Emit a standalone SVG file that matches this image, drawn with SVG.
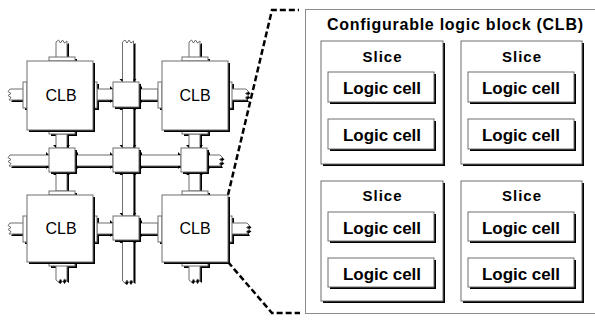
<svg xmlns="http://www.w3.org/2000/svg" width="595" height="322" viewBox="0 0 595 322">
<style>
.sd{fill:#000;stroke:none}
.bx{fill:#fff;stroke:#6e6e6e;stroke-width:1}
.t{font-family:"Liberation Sans",Arial,Helvetica,sans-serif;fill:#000}
.clb{font-size:16px;text-anchor:middle}
.b{font-weight:bold;text-anchor:middle}
.dash{fill:none;stroke:#000;stroke-width:2.5;stroke-dasharray:6 3}
.frame{fill:none;stroke:#8c8c8c;stroke-width:1}
</style>
<rect width="595" height="322" fill="#fff"/>

<g id="connectors">
  <!-- shadows -->
  <g class="sd" transform="translate(2,2)">
    <path d="M122.5,82 V42 L125,40 L127,43 L129,40 L131,43 L133.5,41 V82 Z"/>
    <rect x="122.5" y="107" width="11" height="41"/>
    <rect x="122.5" y="172" width="11" height="44"/>
    <path d="M122.5,240 V281 L125,283 L127,280 L129,283 L131,280 L133.5,282 V240 Z"/>
    <path d="M49,155 H10 L8,157.5 L11,159.5 L8,161.5 L11,163.5 L9,166 H49 Z"/>
    <rect x="75" y="155" width="38" height="11"/>
    <rect x="139" y="155" width="42" height="11"/>
    <path d="M207,155 H220 L222.5,157.5 L219.5,159.5 L222.5,161.5 L219.5,163.5 L221,166 H207 Z"/>
    <rect x="97" y="89" width="16" height="11"/>
    <rect x="139" y="89" width="19" height="11"/>
    <rect x="97" y="223" width="16" height="11"/>
    <rect x="139" y="223" width="19" height="11"/>
    <rect x="56" y="134" width="11" height="14"/>
    <rect x="56" y="173" width="11" height="18"/>
    <rect x="189" y="134" width="11" height="14"/>
    <rect x="189" y="172" width="11" height="19"/>
    <path d="M23,89 H10 L8,91.5 L11,93.5 L8,95.5 L11,97.5 L9,100 H23 Z"/>
    <path d="M232,89 H246 L248.5,91.5 L245.5,93.5 L248.5,95.5 L245.5,97.5 L247,100 H232 Z"/>
    <path d="M23,223 H10 L8,225.5 L11,227.5 L8,229.5 L11,231.5 L9,234 H23 Z"/>
    <path d="M232,223 H247 L249.5,225.5 L246.5,227.5 L249.5,229.5 L246.5,231.5 L248,234 H232 Z"/>
    <path d="M56,57 V42 L58.5,40 L60.5,43 L62.5,40 L64.5,43 L67,41 V57 Z"/>
    <path d="M189,57 V42 L191.5,40 L193.5,43 L195.5,40 L197.5,43 L200,41 V57 Z"/>
    <path d="M56,266 V280 L58.5,282 L60.5,279 L62.5,282 L64.5,279 L67,281 V266 Z"/>
    <path d="M189,266 V280 L191.5,282 L193.5,279 L195.5,282 L197.5,279 L200,281 V266 Z"/>
    <rect x="93" y="82" width="4" height="26"/>
    <rect x="158" y="82" width="4" height="26"/>
    <rect x="93" y="216" width="4" height="26"/>
    <rect x="158" y="216" width="4" height="26"/>
    <rect x="23" y="82" width="4" height="26"/>
    <rect x="228" y="82" width="4" height="26"/>
    <rect x="23" y="216" width="4" height="26"/>
    <rect x="228" y="216" width="4" height="26"/>
    <rect x="49" y="57" width="26" height="4"/>
    <rect x="182" y="57" width="26" height="4"/>
    <rect x="49" y="130" width="26" height="4"/>
    <rect x="182" y="130" width="26" height="4"/>
    <rect x="49" y="191" width="26" height="4"/>
    <rect x="182" y="191" width="26" height="4"/>
    <rect x="49" y="262" width="26" height="4"/>
    <rect x="182" y="262" width="26" height="4"/>
  </g>
  <!-- bodies -->
  <g class="bx">
    <path d="M122.5,82 V42 L125,40 L127,43 L129,40 L131,43 L133.5,41 V82"/>
    <rect x="122.5" y="107" width="11" height="41"/>
    <rect x="122.5" y="172" width="11" height="44"/>
    <path d="M122.5,240 V281 L125,283 L127,280 L129,283 L131,280 L133.5,282 V240"/>
    <path d="M49,155 H10 L8,157.5 L11,159.5 L8,161.5 L11,163.5 L9,166 H49"/>
    <rect x="75" y="155" width="38" height="11"/>
    <rect x="139" y="155" width="42" height="11"/>
    <path d="M207,155 H220 L222.5,157.5 L219.5,159.5 L222.5,161.5 L219.5,163.5 L221,166 H207"/>
    <rect x="97" y="89" width="16" height="11"/>
    <rect x="139" y="89" width="19" height="11"/>
    <rect x="97" y="223" width="16" height="11"/>
    <rect x="139" y="223" width="19" height="11"/>
    <rect x="56" y="134" width="11" height="14"/>
    <rect x="56" y="173" width="11" height="18"/>
    <rect x="189" y="134" width="11" height="14"/>
    <rect x="189" y="172" width="11" height="19"/>
    <path d="M23,89 H10 L8,91.5 L11,93.5 L8,95.5 L11,97.5 L9,100 H23"/>
    <path d="M232,89 H246 L248.5,91.5 L245.5,93.5 L248.5,95.5 L245.5,97.5 L247,100 H232"/>
    <path d="M23,223 H10 L8,225.5 L11,227.5 L8,229.5 L11,231.5 L9,234 H23"/>
    <path d="M232,223 H247 L249.5,225.5 L246.5,227.5 L249.5,229.5 L246.5,231.5 L248,234 H232"/>
    <path d="M56,57 V42 L58.5,40 L60.5,43 L62.5,40 L64.5,43 L67,41 V57"/>
    <path d="M189,57 V42 L191.5,40 L193.5,43 L195.5,40 L197.5,43 L200,41 V57"/>
    <path d="M56,266 V280 L58.5,282 L60.5,279 L62.5,282 L64.5,279 L67,281 V266"/>
    <path d="M189,266 V280 L191.5,282 L193.5,279 L195.5,282 L197.5,279 L200,281 V266"/>
    <rect x="93" y="82" width="4" height="26"/>
    <rect x="158" y="82" width="4" height="26"/>
    <rect x="93" y="216" width="4" height="26"/>
    <rect x="158" y="216" width="4" height="26"/>
    <rect x="23" y="82" width="4" height="26"/>
    <rect x="228" y="82" width="4" height="26"/>
    <rect x="23" y="216" width="4" height="26"/>
    <rect x="228" y="216" width="4" height="26"/>
    <rect x="49" y="57" width="26" height="4"/>
    <rect x="182" y="57" width="26" height="4"/>
    <rect x="49" y="130" width="26" height="4"/>
    <rect x="182" y="130" width="26" height="4"/>
    <rect x="49" y="191" width="26" height="4"/>
    <rect x="182" y="191" width="26" height="4"/>
    <rect x="49" y="262" width="26" height="4"/>
    <rect x="182" y="262" width="26" height="4"/>
  </g>
  <!-- arrow barbs at switch-box joints -->
  <path class="sd" d="
    M122.5,82 l-3,-3 l3,0 z M133.5,82 l3,-3 l-3,0 z
    M122.5,107 l-3,3 l3,0 z M133.5,107 l3,3 l-3,0 z
    M113,89 l-3,-3 l0,3 z M113,100 l-3,3 l0,-3 z
    M139,89 l3,-3 l0,3 z M139,100 l3,3 l0,-3 z
    M122.5,148 l-3,-3 l3,0 z M133.5,148 l3,-3 l-3,0 z
    M122.5,172 l-3,3 l3,0 z M133.5,172 l3,3 l-3,0 z
    M113,155 l-3,-3 l0,3 z M113,166 l-3,3 l0,-3 z
    M139,155 l3,-3 l0,3 z M139,166 l3,3 l0,-3 z
    M122.5,216 l-3,-3 l3,0 z M133.5,216 l3,-3 l-3,0 z
    M122.5,240 l-3,3 l3,0 z M133.5,240 l3,3 l-3,0 z
    M113,223 l-3,-3 l0,3 z M113,234 l-3,3 l0,-3 z
    M139,223 l3,-3 l0,3 z M139,234 l3,3 l0,-3 z
    M56,148 l-3,-3 l3,0 z M67,148 l3,-3 l-3,0 z
    M56,172 l-3,3 l3,0 z M67,172 l3,3 l-3,0 z
    M49,155 l-3,-3 l0,3 z M49,166 l-3,3 l0,-3 z
    M75,155 l3,-3 l0,3 z M75,166 l3,3 l0,-3 z
    M189,148 l-3,-3 l3,0 z M200,148 l3,-3 l-3,0 z
    M189,172 l-3,3 l3,0 z M200,172 l3,3 l-3,0 z
    M181,155 l-3,-3 l0,3 z M181,166 l-3,3 l0,-3 z
    M207,155 l3,-3 l0,3 z M207,166 l3,3 l0,-3 z"/>
  <!-- zoom lines -->
  <path class="dash" d="M228,195 L272,10 L299,10"/>
  <path class="dash" d="M228,262 L272,313 L300,313"/>
</g>

<!-- switch boxes -->
<g id="sw-top"><rect class="sd" x="115" y="84" width="26" height="25"/><rect class="bx" x="113" y="82" width="26" height="25"/></g>
<g id="sw-midleft"><rect class="sd" x="51" y="150" width="26" height="24"/><rect class="bx" x="49" y="148" width="26" height="24"/></g>
<g id="sw-center"><rect class="sd" x="115" y="150" width="26" height="24"/><rect class="bx" x="113" y="148" width="26" height="24"/></g>
<g id="sw-midright"><rect class="sd" x="183" y="150" width="26" height="24"/><rect class="bx" x="181" y="148" width="26" height="24"/></g>
<g id="sw-bottom"><rect class="sd" x="115" y="218" width="26" height="24"/><rect class="bx" x="113" y="216" width="26" height="24"/></g>

<!-- CLBs -->
<g id="clb-tl"><rect class="sd" x="29" y="63" width="66" height="69"/><rect class="bx" x="27" y="61" width="66" height="69"/><text class="t clb" x="61" y="101">CLB</text></g>
<g id="clb-tr"><rect class="sd" x="164" y="63" width="66" height="69"/><rect class="bx" x="162" y="61" width="66" height="69"/><text class="t clb" x="195" y="101">CLB</text></g>
<g id="clb-bl"><rect class="sd" x="29" y="197" width="66" height="67"/><rect class="bx" x="27" y="195" width="66" height="67"/><text class="t clb" x="61" y="234">CLB</text></g>
<g id="clb-br"><rect class="sd" x="164" y="197" width="66" height="67"/><rect class="bx" x="162" y="195" width="66" height="67"/><text class="t clb" x="195" y="234">CLB</text></g>

<!-- expanded CLB -->
<g id="clb-detail">
  <rect class="frame" x="305.5" y="9.5" width="300" height="304"/>
  <text class="t b" x="455" y="29.5" font-size="16" textLength="256" lengthAdjust="spacing">Configurable logic block (CLB)</text>
</g>

<g id="slice-tl">
  <rect class="sd" x="323" y="43" width="122" height="123"/><rect class="bx" x="321" y="41" width="122" height="123"/>
  <text class="t b" x="382" y="61.5" font-size="15" textLength="39" lengthAdjust="spacing">Slice</text>
  <g id="cell-tl1"><rect class="sd" x="330" y="74" width="106" height="30"/><rect class="bx" x="328" y="72" width="106" height="30"/><text class="t b" x="382" y="94" font-size="17" textLength="78" lengthAdjust="spacing">Logic cell</text></g>
  <g id="cell-tl2"><rect class="sd" x="330" y="121" width="106" height="30"/><rect class="bx" x="328" y="119" width="106" height="30"/><text class="t b" x="382" y="141" font-size="17" textLength="78" lengthAdjust="spacing">Logic cell</text></g>
</g>
<g id="slice-tr">
  <rect class="sd" x="463" y="43" width="121" height="123"/><rect class="bx" x="461" y="41" width="121" height="123"/>
  <text class="t b" x="521.5" y="61.5" font-size="15" textLength="39" lengthAdjust="spacing">Slice</text>
  <g id="cell-tr1"><rect class="sd" x="470" y="74" width="106" height="30"/><rect class="bx" x="468" y="72" width="106" height="30"/><text class="t b" x="521" y="94" font-size="17" textLength="78" lengthAdjust="spacing">Logic cell</text></g>
  <g id="cell-tr2"><rect class="sd" x="470" y="121" width="106" height="30"/><rect class="bx" x="468" y="119" width="106" height="30"/><text class="t b" x="521" y="141" font-size="17" textLength="78" lengthAdjust="spacing">Logic cell</text></g>
</g>
<g id="slice-bl">
  <rect class="sd" x="323" y="183" width="122" height="120"/><rect class="bx" x="321" y="181" width="122" height="120"/>
  <text class="t b" x="382" y="201" font-size="15" textLength="39" lengthAdjust="spacing">Slice</text>
  <g id="cell-bl1"><rect class="sd" x="330" y="214" width="106" height="29"/><rect class="bx" x="328" y="212" width="106" height="29"/><text class="t b" x="382" y="233.5" font-size="17" textLength="78" lengthAdjust="spacing">Logic cell</text></g>
  <g id="cell-bl2"><rect class="sd" x="330" y="260" width="106" height="29"/><rect class="bx" x="328" y="258" width="106" height="29"/><text class="t b" x="382" y="279.5" font-size="17" textLength="78" lengthAdjust="spacing">Logic cell</text></g>
</g>
<g id="slice-br">
  <rect class="sd" x="463" y="183" width="121" height="120"/><rect class="bx" x="461" y="181" width="121" height="120"/>
  <text class="t b" x="521.5" y="201" font-size="15" textLength="39" lengthAdjust="spacing">Slice</text>
  <g id="cell-br1"><rect class="sd" x="470" y="214" width="106" height="29"/><rect class="bx" x="468" y="212" width="106" height="29"/><text class="t b" x="521" y="233.5" font-size="17" textLength="78" lengthAdjust="spacing">Logic cell</text></g>
  <g id="cell-br2"><rect class="sd" x="470" y="260" width="106" height="29"/><rect class="bx" x="468" y="258" width="106" height="29"/><text class="t b" x="521" y="279.5" font-size="17" textLength="78" lengthAdjust="spacing">Logic cell</text></g>
</g>
</svg>
